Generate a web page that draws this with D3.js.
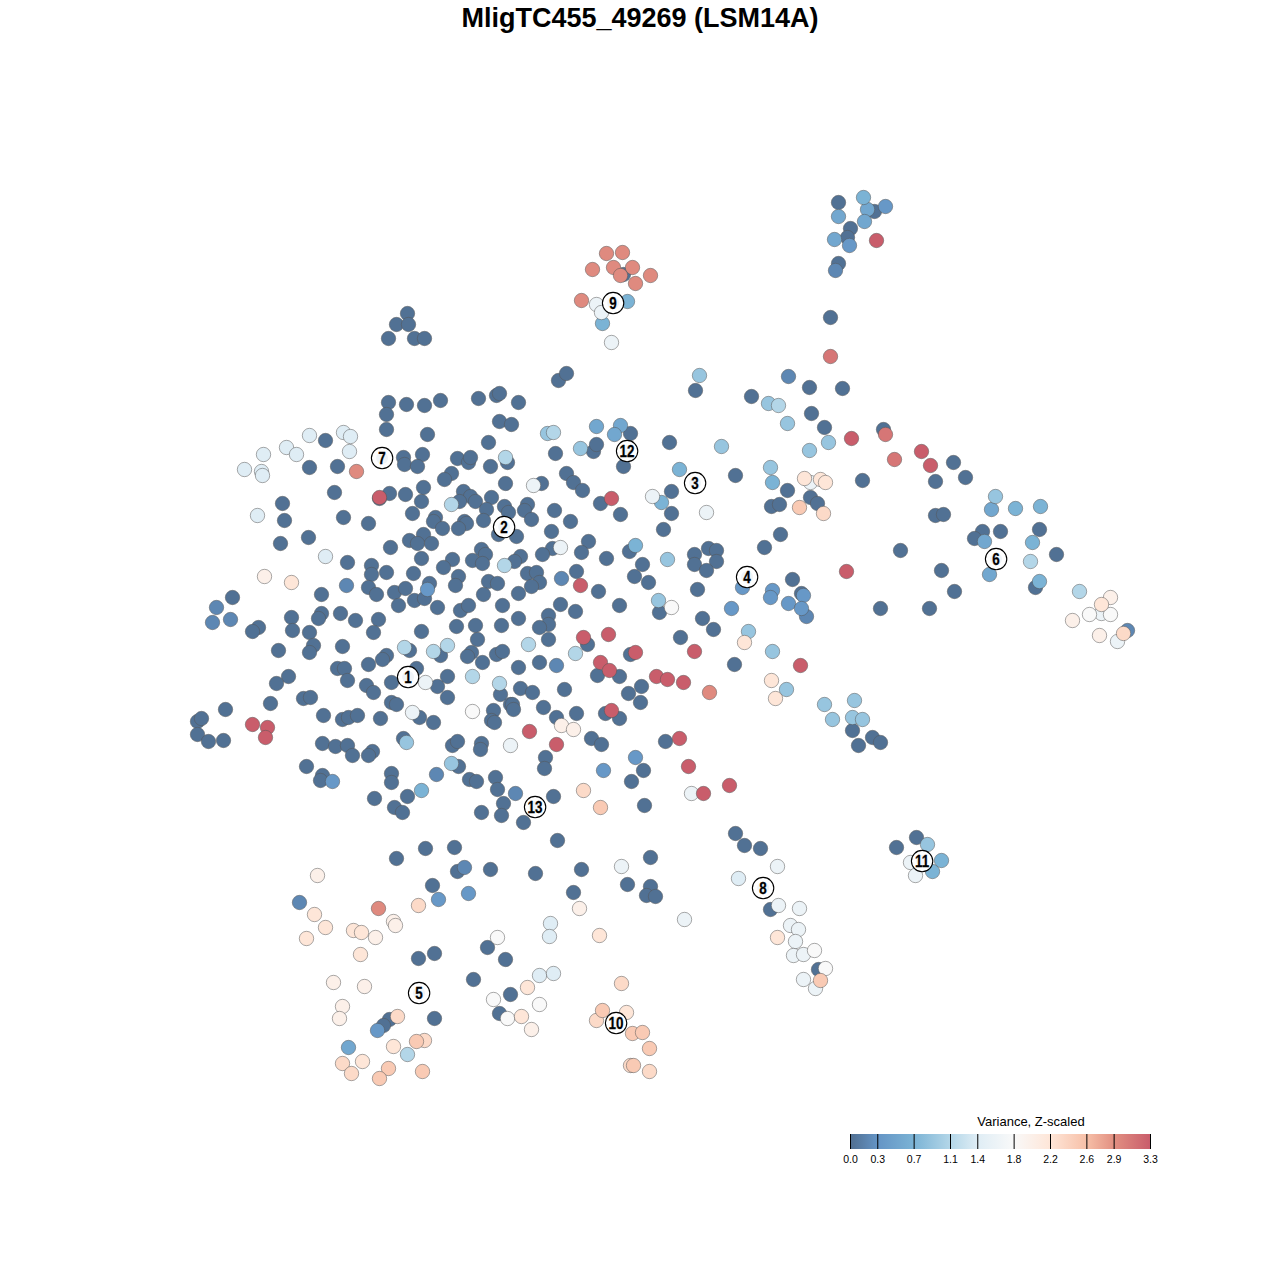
<!DOCTYPE html>
<html><head><meta charset="utf-8">
<style>html,body{margin:0;padding:0;background:#fff}svg{display:block}text{font-family:"Liberation Sans",Arial,sans-serif}</style>
<script src="https://cdn.jsdelivr.net/npm/d3@7"></script></head><body><script>
const chartTitle="MligTC455_49269 (LSM14A)";
const legendTitle="Variance, Z-scaled";
const legendTicks=[0.0,0.3,0.7,1.1,1.4,1.8,2.2,2.6,2.9,3.3];
const legendColors=["#053061","#2166AC","#4393C3","#92C5DE","#D1E5F0","#F7F7F7","#FDDBC7","#F4A582","#D6604D","#B2182B"];
const levelVals=[0.02,0.2,0.35,0.55,0.7,0.9,1.1,1.4,1.6,1.8,2.0,2.2,2.33,2.5,2.95,3.1,3.3];
const level00=[388,402,406,404,424,405,440,400,478,398,496,395,499,393,518,402,386,414,386,429,427,434,499,421,511,424,488,442,325,440,309,467,337,466,403,457,404,464,422,454,417,466,457,458,468,462,470,457,490,466,507,462,505,483,451,473,444,479,334,492,389,493,379,498,405,494,423,487,421,501,463,491,470,496,459,501,475,501,491,497,486,509,504,506,508,512,282,503,284,520,343,517,368,523,412,513,435,517,433,521,442,528,464,521,466,523,458,528,483,520,498,534,280,543,308,537,390,547,423,534,409,540,417,543,431,543,421,558,481,549,485,554,472,560,482,563,452,559,443,567,347,562,371,565,371,574,386,572,413,573,458,576,455,585,488,581,497,583,483,594,502,605,429,583,368,587,376,594,394,592,405,588,414,600,424,598,398,605,437,607,460,610,468,605,321,594,232,597,
291,617,292,630,321,613,318,618,340,613,355,620,378,619,373,632,258,627,252,631,309,632,313,645,309,652,278,650,342,646,421,631,456,626,475,625,501,625,477,639,409,650,386,655,382,659,368,664,337,668,344,668,347,680,288,676,276,683,366,685,373,692,391,682,416,668,440,655,447,676,437,686,447,697,471,652,467,656,482,662,496,654,502,651,500,694,270,703,303,698,310,697,391,702,396,704,323,715,342,719,348,717,357,715,380,718,419,717,433,722,493,710,491,720,494,722,510,704,225,709,197,721,201,718,197,734,208,741,223,740,322,743,335,746,347,745,352,755,372,751,368,755,403,738,452,745,457,741,481,743,480,749,306,766,322,775,320,780,391,773,391,782,458,766,469,779,476,781,495,777,497,789,374,798,407,796,394,807,402,812,503,803,501,815,481,812,
541,483,555,453,558,380,566,373,593,451,596,444,566,473,573,482,582,490,600,503,620,514,623,466,630,433,669,442,671,491,671,513,663,529,735,475,695,390,751,396,554,510,570,521,551,531,527,504,524,510,531,519,516,536,588,541,581,552,552,548,542,554,606,558,629,551,642,564,634,576,648,582,520,556,514,561,527,573,536,572,539,582,531,586,518,593,576,571,598,591,560,604,575,611,548,615,518,618,619,605,659,612,694,554,708,548,716,550,716,561,694,564,706,570,697,589,702,618,764,547,
548,624,539,627,713,629,680,637,587,644,548,639,630,654,734,664,518,667,539,662,597,675,619,676,641,686,628,693,640,702,520,688,532,692,564,689,543,707,576,713,556,717,605,713,619,718,512,704,513,709,591,738,601,744,665,741,545,757,544,768,553,796,523,822,643,770,631,781,644,805,735,833,557,840,
838,202,874,211,850,228,847,237,838,263,830,317,809,387,842,388,811,413,824,427,883,429,407,313,396,324,408,324,388,338,414,338,424,338,623,274,
953,462,965,477,935,481,862,480,787,490,810,497,817,503,771,506,779,504,780,534,935,515,943,514,1039,529,982,531,974,538,1000,531,1056,554,900,550,941,570,954,591,1035,587,792,579,801,593,880,608,929,608,852,730,872,737,880,742,858,745,
396,858,425,848,454,847,457,871,490,869,535,873,581,869,650,857,432,885,573,892,627,884,650,886,646,895,655,896,487,947,505,959,418,958,434,953,473,979,510,994,499,1013,434,1018,389,1019,383,1025,744,845,760,848,770,909,818,969,896,847,916,837];
const level01=[835,270,788,376,346,585,216,607,212,622,230,619,561,578,806,616,1127,630,464,867,299,902,556,665,436,774,515,793];
const level02=[427,589,742,587,731,608,772,590,770,597,803,595,788,603,801,608,332,781,603,770,635,757,885,206,849,245,438,899,468,893,377,1030];
const level03=[596,426,620,425,614,434,867,209,838,216,864,221,834,239,984,541,991,509,989,574,348,1047];
const level04=[863,197,627,301,602,323,679,469,635,545,661,502,1015,508,1040,506,1032,542,1039,581,772,482,932,871,941,860,421,790];
const level05=[547,433,580,448,721,446,770,467,768,403,667,559,658,600,699,375,787,423,828,442,809,450,995,496,748,631,772,651,786,689,824,704,854,700,832,719,852,717,862,719,927,844,406,742,451,763];
const level06=[553,432,778,405,451,504,505,457,504,565,404,647,433,651,447,645,472,676,499,683,528,644,575,653,1030,561,1079,591,407,1054];
const level07=[309,435,343,432,350,436,286,447,296,454,263,454,349,451,244,469,261,471,262,475,257,515,325,556,550,923,549,936,539,975,553,973,738,878];
const level08=[425,682,412,712,510,745,533,485,652,496,706,512,560,547,691,793,596,304,601,312,611,342,621,866,684,919,777,866,778,905,799,908,790,925,798,929,795,941,793,955,803,954,803,979,815,988,910,862,915,875,1101,613,1117,641,810,482];
const level09=[472,711,671,607,497,937,493,999,539,1004,507,1018,814,950,825,968,1089,614,1110,614];
const level10=[264,576,561,725,573,729,1110,597,1072,620,1099,635,317,875,579,908,531,1029,375,937,393,921,395,925,333,982,364,986,342,1006,339,1018];
const level11=[291,582,744,642,771,680,775,698,804,478,820,479,825,482,1101,604,314,914,325,927,306,938,353,930,361,932,360,954,599,935,527,987,521,1016,393,1046,362,1061,626,1012,777,937];
const level12=[823,513,1123,633,583,790,418,905,397,1016,424,1040,342,1063,351,1073,621,983,596,1020,630,1065,649,1071];
const level13=[799,507,600,807,820,980,416,1041,388,1068,379,1078,422,1071,602,1010,632,1033,642,1032,649,1048,633,1065];
const level14=[606,253,622,252,592,269,613,267,632,267,620,275,650,275,635,283,581,300,356,471,709,692,378,908];
const level15=[830,356,894,459,885,434];
const level16=[379,497,252,724,267,727,265,737,876,240,851,438,921,451,930,465,846,571,800,665,611,498,580,585,583,637,608,634,635,652,600,662,609,670,656,676,667,679,683,682,694,651,611,710,529,731,556,744,679,738,688,766,703,793,729,785];
const levels=[level00,level01,level02,level03,level04,level05,level06,level07,level08,level09,level10,level11,level12,level13,level14,level15,level16];
const clusterIds=[1,2,3,4,5,6,7,8,9,10,11,12,13];
const clusterX=[408,504,695,747,419,996,382,763,613,616,922,627,535];
const clusterY=[677,527,483,577,993,559,458,888,303,1023,861,451,807];

const W=1280,H=1280;
const xS=d3.scaleLinear().domain([0,1280]).range([0.5,W+0.5]);
const yS=d3.scaleLinear().domain([0,1280]).range([0.5,H+0.5]);
const blend=c=>{const r=d3.rgb(c);const f=v=>Math.round(v*0.7+255*0.3);return d3.rgb(f(r.r),f(r.g),f(r.b)).formatHex();};
const stops=legendColors.map(blend);
const color=d3.scaleLinear().domain(legendTicks).range(stops).clamp(true);
const svg=d3.select("body").append("svg").attr("width",W).attr("height",H);
svg.append("text").attr("x",640).attr("y",27).attr("text-anchor","middle").attr("font-weight","bold").attr("font-size",27).attr("fill","#000").text(chartTitle);

const points=[];
levels.forEach((arr,i)=>{for(let k=0;k<arr.length;k+=2)points.push({x:arr[k],y:arr[k+1],v:levelVals[i]});});
svg.append("g").selectAll("circle").data(points).join("circle")
 .attr("cx",d=>xS(d.x)).attr("cy",d=>yS(d.y)).attr("r",7.2)
 .attr("fill",d=>color(d.v)).attr("stroke","#555").attr("stroke-opacity",0.5).attr("stroke-width",1);

const lab=svg.append("g").selectAll("g").data(clusterIds).join("g")
 .attr("transform",(d,i)=>`translate(${xS(clusterX[i])-0.4},${yS(clusterY[i])-0.4})`);
lab.append("circle").attr("r",10.7).attr("fill","#fff").attr("stroke","#000").attr("stroke-width",1.1);
lab.append("circle").attr("r",6).attr("fill","#f0f4f8");
lab.append("text").attr("text-anchor","middle").attr("transform","translate(0,5.6) scale(0.84,1)").attr("font-weight","bold").attr("font-size",16).attr("fill","#000").attr("stroke","#000").attr("stroke-width",0.25).text(d=>d);

// legend
const lx=d3.scaleLinear().domain([0,3.3]).range([850,1150]);
const defs=svg.append("defs");
const grad=defs.append("linearGradient").attr("id","lg").attr("x1","0").attr("x2","1").attr("y1","0").attr("y2","0");
legendTicks.forEach((t,i)=>grad.append("stop").attr("offset",t/3.3).attr("stop-color",stops[i]));
const leg=svg.append("g");
leg.append("rect").attr("x",lx(0)).attr("y",1134).attr("width",lx(3.3)-lx(0)).attr("height",15).attr("fill","url(#lg)");
leg.selectAll("line").data(legendTicks).join("line")
 .attr("x1",d=>lx(d)+0.5).attr("x2",d=>lx(d)+0.5).attr("y1",1134).attr("y2",1149).attr("stroke","#000").attr("stroke-width",1);
leg.selectAll("text.t").data(legendTicks).join("text").attr("class","t")
 .attr("x",d=>lx(d)+0.5).attr("y",1163).attr("text-anchor","middle").attr("font-size",10.5).attr("fill","#000").text(d=>d.toFixed(1));
leg.append("text").attr("x",1031).attr("y",1126).attr("text-anchor","middle").attr("font-size",13).attr("fill","#000").text(legendTitle);
</script></body></html>
